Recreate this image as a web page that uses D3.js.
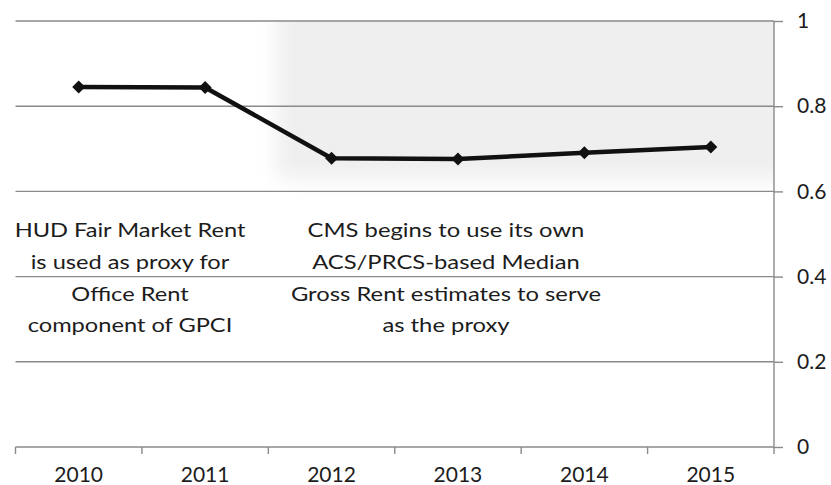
<!DOCTYPE html>
<html><head><meta charset="utf-8">
<script src="https://cdn.jsdelivr.net/npm/d3@7/dist/d3.min.js"></script>
<style>html,body{margin:0;padding:0;background:#fff;}svg{display:block;}</style>
</head><body>
<svg id="chart" width="831" height="485"></svg>
<script>
const years = ["2010","2011","2012","2013","2014","2015"];
const values = [0.845, 0.844, 0.678, 0.676, 0.691, 0.704];
const yTicks = [0, 0.2, 0.4, 0.6, 0.8, 1];
const noteLeft = ["HUD Fair Market Rent","is used as proxy for","Office Rent","component of GPCI"];
const noteRight = ["CMS begins to use its own","ACS/PRCS-based Median","Gross Rent estimates to serve","as the proxy"];
const shadeFrom = "2012", shadeTo = "2015", shadeY = [0.615, 1];

const svg = d3.select("#chart");
const m = {left: 15.5, right: 774, top: 21, bottom: 447};
const x = d3.scaleBand().domain(years).range([m.left, m.right]).padding(0);
const y = d3.scaleLinear().domain([0, 1]).range([m.bottom, m.top]);
const font = "Lato, 'Open Sans', sans-serif";
const textCol = "#1c1c1c", gridCol = "#8a8a8a";

// soft shaded background region
const defs = svg.append("defs");
defs.append("filter").attr("id","soft").attr("x","-20%").attr("y","-30%").attr("width","140%").attr("height","160%")
  .append("feGaussianBlur").attr("stdDeviation", 10);
defs.append("clipPath").attr("id","plotclip").append("rect")
  .attr("x", m.left).attr("y", m.top).attr("width", m.right - m.left).attr("height", m.bottom - m.top);
svg.append("g").attr("clip-path","url(#plotclip)")
  .append("rect")
  .attr("x", x(shadeFrom) + 8)
  .attr("y", y(shadeY[1]) - 30)
  .attr("width", x(shadeTo) + x.bandwidth() - x(shadeFrom) + 30)
  .attr("height", y(shadeY[0]) - y(shadeY[1]) + 24)
  .attr("fill", "#efefef")
  .attr("filter","url(#soft)");

// gridlines
svg.append("g").selectAll("line").data(yTicks.filter(d => d > 0)).join("line")
  .attr("x1", m.left).attr("x2", m.right)
  .attr("y1", d => y(d)).attr("y2", d => y(d))
  .attr("stroke", gridCol).attr("stroke-width", 1.4);

// y axis on the right
const yAxis = d3.axisRight(y).tickValues(yTicks).tickFormat(d => String(d)).tickSize(9).tickPadding(14);
const gy = svg.append("g").attr("transform", `translate(${m.right},0)`).call(yAxis);
gy.select(".domain").attr("stroke", gridCol).attr("stroke-width", 1.4).attr("d", `M0,${m.top}V${m.bottom}`);
gy.selectAll(".tick line").attr("stroke", gridCol).attr("stroke-width", 1.4);
gy.selectAll(".tick text").attr("font-family", font).attr("font-size", 21).attr("fill", textCol);

// x axis
const gx = svg.append("g").attr("transform", `translate(0,${m.bottom})`);
gx.append("line").attr("x1", m.left).attr("x2", m.right).attr("stroke", gridCol).attr("stroke-width", 1.4);
const edges = years.map(d => x(d)).concat([x(years[years.length-1]) + x.bandwidth()]);
gx.selectAll("line.tk").data(edges).join("line").attr("class","tk")
  .attr("x1", d => d).attr("x2", d => d).attr("y1", 0).attr("y2", 7)
  .attr("stroke", gridCol).attr("stroke-width", 1.4);
gx.selectAll("text").data(years).join("text")
  .attr("x", d => x(d) + x.bandwidth()/2).attr("y", 35)
  .attr("text-anchor","middle").attr("font-family", font).attr("font-size", 21).attr("fill", textCol)
  .text(d => d);

// line + markers
const pts = years.map((d,i) => ({k: d, v: values[i]}));
const line = d3.line().x(d => x(d.k) + x.bandwidth()/2).y(d => y(d.v));
svg.append("path").datum(pts).attr("d", line).attr("fill","none")
  .attr("stroke","#111").attr("stroke-width", 4.5).attr("stroke-linejoin","round");
svg.append("g").selectAll("path").data(pts).join("path")
  .attr("transform", d => `translate(${x(d.k) + x.bandwidth()/2},${y(d.v)})`)
  .attr("d", "M0,-6.5L6.5,0L0,6.5L-6.5,0Z").attr("fill","#111");

// annotations (horizontally fitted to the reference's wide face)
function note(lines, cx, y0, dy, targetFirstWidth) {
  const g = svg.append("g");
  const t = g.selectAll("text").data(lines).join("text")
    .attr("x", 0).attr("y", (d,i) => y0 + i*dy)
    .attr("text-anchor","middle").attr("font-family", font).attr("font-size", 20).attr("fill", textCol)
    .text(d => d);
  const w = t.node().getComputedTextLength();
  const sx = w > 0 ? targetFirstWidth / w : 1;
  g.attr("transform", `translate(${cx},0) scale(${sx},1)`);
}
note(noteLeft, 130, 237, 31.8, 231);
note(noteRight, 446, 237, 31.8, 277);
</script>
</body></html>
